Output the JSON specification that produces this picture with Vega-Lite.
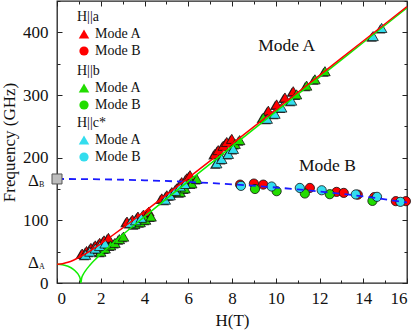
{
  "$schema": "https://vega.github.io/schema/vega-lite/v6.json",
  "width": 350,
  "height": 282,
  "autosize": {"type": "none"},
  "padding": {"left": 57, "top": 1, "right": 9, "bottom": 48},
  "background": "white",
  "config": {
    "font": "Liberation Serif",
    "view": {"stroke": "#222", "strokeWidth": 1.3},
    "axis": {
      "domain": false, "grid": false, "tickColor": "#222", "tickWidth": 1,
      "labelFont": "Liberation Serif", "labelFontSize": 17, "labelColor": "#111",
      "titleFont": "Liberation Serif", "titleFontSize": 17, "titleFontWeight": "normal", "titleColor": "#111"
    },
    "legend": {
      "titleFont": "Liberation Serif", "titleFontSize": 14, "titleFontWeight": "normal", "titleColor": "#111",
      "labelFont": "Liberation Serif", "labelFontSize": 14, "labelColor": "#111",
      "symbolStrokeColor": "#111", "symbolStrokeWidth": 0.8, "padding": 0, "rowPadding": 3, "titlePadding": 3
    }
  },
  "datasets": {
    "pts": [
      {"H": 1.15, "f": 47, "o": "a", "m": "Mode A"}, {"H": 1.35, "f": 51, "o": "a", "m": "Mode A"}, {"H": 1.55, "f": 56, "o": "a", "m": "Mode A"},
      {"H": 1.75, "f": 60, "o": "a", "m": "Mode A"}, {"H": 1.95, "f": 64, "o": "a", "m": "Mode A"}, {"H": 2.15, "f": 68, "o": "a", "m": "Mode A"},
      {"H": 2.35, "f": 72, "o": "a", "m": "Mode A"}, {"H": 3.2, "f": 98, "o": "a", "m": "Mode A"}, {"H": 3.45, "f": 101, "o": "a", "m": "Mode A"},
      {"H": 3.7, "f": 106, "o": "a", "m": "Mode A"}, {"H": 3.95, "f": 109, "o": "a", "m": "Mode A"}, {"H": 4.2, "f": 114, "o": "a", "m": "Mode A"},
      {"H": 4.79, "f": 135, "o": "a", "m": "Mode A"}, {"H": 5.02, "f": 140, "o": "a", "m": "Mode A"}, {"H": 5.25, "f": 145, "o": "a", "m": "Mode A"},
      {"H": 5.47, "f": 151, "o": "a", "m": "Mode A"}, {"H": 5.7, "f": 161, "o": "a", "m": "Mode A"}, {"H": 5.93, "f": 167, "o": "a", "m": "Mode A"},
      {"H": 6.08, "f": 172, "o": "a", "m": "Mode A"}, {"H": 7.22, "f": 206, "o": "a", "m": "Mode A"}, {"H": 7.37, "f": 212, "o": "a", "m": "Mode A"},
      {"H": 7.6, "f": 219, "o": "a", "m": "Mode A"}, {"H": 7.76, "f": 225, "o": "a", "m": "Mode A"}, {"H": 7.99, "f": 230, "o": "a", "m": "Mode A"},
      {"H": 9.66, "f": 275, "o": "a", "m": "Mode A"}, {"H": 10.04, "f": 285, "o": "a", "m": "Mode A"}, {"H": 10.42, "f": 296, "o": "a", "m": "Mode A"},
      {"H": 10.8, "f": 306, "o": "a", "m": "Mode A"},
      {"H": 8.37, "f": 157, "o": "a", "m": "Mode B"}, {"H": 9.0, "f": 158.7, "o": "a", "m": "Mode B"}, {"H": 9.43, "f": 157, "o": "a", "m": "Mode B"},
      {"H": 11.56, "f": 151.7, "o": "a", "m": "Mode B"}, {"H": 12.78, "f": 145.4, "o": "a", "m": "Mode B"}, {"H": 13.11, "f": 143.8, "o": "a", "m": "Mode B"},
      {"H": 13.75, "f": 141, "o": "a", "m": "Mode B"}, {"H": 14.5, "f": 137, "o": "a", "m": "Mode B"}, {"H": 15.49, "f": 130.6, "o": "a", "m": "Mode B"},
      {"H": 15.95, "f": 130.6, "o": "a", "m": "Mode B"},
      {"H": 2.0, "f": 50, "o": "b", "m": "Mode A"}, {"H": 2.2, "f": 55, "o": "b", "m": "Mode A"}, {"H": 2.45, "f": 60, "o": "b", "m": "Mode A"},
      {"H": 2.65, "f": 64, "o": "b", "m": "Mode A"}, {"H": 2.85, "f": 70, "o": "b", "m": "Mode A"}, {"H": 3.04, "f": 74, "o": "b", "m": "Mode A"},
      {"H": 3.55, "f": 94, "o": "b", "m": "Mode A"}, {"H": 3.8, "f": 97, "o": "b", "m": "Mode A"}, {"H": 4.05, "f": 101, "o": "b", "m": "Mode A"},
      {"H": 4.3, "f": 106, "o": "b", "m": "Mode A"}, {"H": 5.63, "f": 145, "o": "b", "m": "Mode A"}, {"H": 5.85, "f": 151, "o": "b", "m": "Mode A"},
      {"H": 6.16, "f": 159, "o": "b", "m": "Mode A"}, {"H": 6.39, "f": 166, "o": "b", "m": "Mode A"}, {"H": 8.14, "f": 222, "o": "b", "m": "Mode A"},
      {"H": 8.35, "f": 228, "o": "b", "m": "Mode A"}, {"H": 9.43, "f": 264, "o": "b", "m": "Mode A"}, {"H": 10.95, "f": 301, "o": "b", "m": "Mode A"},
      {"H": 11.41, "f": 315, "o": "b", "m": "Mode A"}, {"H": 11.79, "f": 325, "o": "b", "m": "Mode A"}, {"H": 12.25, "f": 338, "o": "b", "m": "Mode A"},
      {"H": 9.05, "f": 150, "o": "b", "m": "Mode B"}, {"H": 10.04, "f": 146.5, "o": "b", "m": "Mode B"}, {"H": 11.33, "f": 142.8, "o": "b", "m": "Mode B"},
      {"H": 12.47, "f": 141.7, "o": "b", "m": "Mode B"}, {"H": 14.42, "f": 131, "o": "b", "m": "Mode B"},
      {"H": 1.3, "f": 45, "o": "c", "m": "Mode A"}, {"H": 1.5, "f": 50, "o": "c", "m": "Mode A"}, {"H": 1.75, "f": 55, "o": "c", "m": "Mode A"},
      {"H": 1.95, "f": 59, "o": "c", "m": "Mode A"}, {"H": 2.2, "f": 63, "o": "c", "m": "Mode A"}, {"H": 3.35, "f": 96, "o": "c", "m": "Mode A"},
      {"H": 3.6, "f": 100, "o": "c", "m": "Mode A"}, {"H": 3.85, "f": 104, "o": "c", "m": "Mode A"}, {"H": 4.95, "f": 133, "o": "c", "m": "Mode A"},
      {"H": 5.17, "f": 140, "o": "c", "m": "Mode A"}, {"H": 5.4, "f": 147, "o": "c", "m": "Mode A"}, {"H": 5.63, "f": 154, "o": "c", "m": "Mode A"},
      {"H": 5.85, "f": 158, "o": "c", "m": "Mode A"}, {"H": 7.3, "f": 191, "o": "c", "m": "Mode A"}, {"H": 7.53, "f": 198, "o": "c", "m": "Mode A"},
      {"H": 7.83, "f": 206, "o": "c", "m": "Mode A"}, {"H": 8.06, "f": 214, "o": "c", "m": "Mode A"}, {"H": 9.61, "f": 262, "o": "c", "m": "Mode A"},
      {"H": 9.96, "f": 270, "o": "c", "m": "Mode A"}, {"H": 10.27, "f": 280, "o": "c", "m": "Mode A"}, {"H": 10.72, "f": 291, "o": "c", "m": "Mode A"},
      {"H": 14.45, "f": 394, "o": "c", "m": "Mode A"}, {"H": 14.84, "f": 407, "o": "c", "m": "Mode A"},
      {"H": 8.41, "f": 155, "o": "c", "m": "Mode B"}, {"H": 9.81, "f": 154, "o": "c", "m": "Mode B"}, {"H": 11.1, "f": 151.7, "o": "c", "m": "Mode B"},
      {"H": 12.1, "f": 148, "o": "c", "m": "Mode B"}, {"H": 13.66, "f": 141.3, "o": "c", "m": "Mode B"}, {"H": 14.63, "f": 137.5, "o": "c", "m": "Mode B"},
      {"H": 15.7, "f": 129.5, "o": "c", "m": "Mode B"}
    ],
    "red": [
      {"H": 0, "f": 30}, {"H": 0.25, "f": 30.8}, {"H": 0.5, "f": 33.0}, {"H": 0.75, "f": 36.4}, {"H": 1, "f": 40.7},
      {"H": 1.25, "f": 45.6}, {"H": 1.5, "f": 51.0}, {"H": 2, "f": 62.6}, {"H": 2.5, "f": 75.0}, {"H": 3, "f": 87.8},
      {"H": 4, "f": 114.0}, {"H": 5, "f": 140.7}, {"H": 6, "f": 167.7}, {"H": 8, "f": 222.0}, {"H": 10, "f": 276.6},
      {"H": 12, "f": 331.4}, {"H": 14, "f": 386.2}, {"H": 16, "f": 441.0}
    ],
    "green": [
      {"H": 0, "f": 30}, {"H": 0.25, "f": 29.2}, {"H": 0.5, "f": 26.7}, {"H": 0.75, "f": 21.8}, {"H": 0.9, "f": 16.9},
      {"H": 1.0, "f": 12.0}, {"H": 1.05, "f": 8.1}, {"H": 1.09, "f": 0}, {"H": 1.13, "f": 8.1}, {"H": 1.2, "f": 13.7},
      {"H": 1.3, "f": 19.4}, {"H": 1.5, "f": 28.3}, {"H": 1.75, "f": 37.6}, {"H": 2, "f": 46.1}, {"H": 2.5, "f": 61.9},
      {"H": 3, "f": 76.9}, {"H": 4, "f": 105.8}, {"H": 5, "f": 134.2}, {"H": 6, "f": 162.3}, {"H": 8, "f": 217.9},
      {"H": 10, "f": 273.4}, {"H": 12, "f": 328.6}, {"H": 14, "f": 383.8}, {"H": 16, "f": 439.0}
    ],
    "blue": [
      {"H": 0, "f": 166}, {"H": 2, "f": 165.5}, {"H": 4, "f": 163.9}, {"H": 6, "f": 161.3}, {"H": 8, "f": 157.5},
      {"H": 10, "f": 152.4}, {"H": 12, "f": 146.1}, {"H": 14, "f": 138.2}, {"H": 16, "f": 128.5}
    ],
    "ann": [
      {"H": 10.5, "f": 378, "t": "Mode A"},
      {"H": 12.36, "f": 186, "t": "Mode B"}
    ],
    "delta": [
      {"f": 32, "t": "Δ", "s": "A"},
      {"f": 163, "t": "Δ", "s": "B"}
    ],
    "gap": [
      {"H": 0, "f": 166}
    ]
  },
  "layer": [
    {
      "data": {"name": "pts"},
      "transform": [{"filter": "datum.m === 'Mode A'"}],
      "mark": {"type": "point", "shape": "triangle-up", "filled": true, "fill": "#1a1a1a", "size": 110, "opacity": 0.85, "xOffset": -1.5, "yOffset": 1},
      "encoding": {
        "x": {"field": "H", "type": "quantitative", "scale": {"domain": [0, 16], "nice": false}, "axis": null},
        "y": {"field": "f", "type": "quantitative", "scale": {"domain": [0, 450], "nice": false}, "axis": null}
      }
    },
    {
      "data": {"name": "pts"},
      "transform": [{"filter": "datum.o === 'a'"}],
      "mark": {"type": "point", "filled": true, "stroke": "#111", "strokeWidth": 0.8, "opacity": 1},
      "encoding": {
        "x": {"field": "H", "type": "quantitative", "axis": null},
        "y": {"field": "f", "type": "quantitative", "axis": null},
        "shape": {"field": "m", "type": "nominal", "scale": {"domain": ["Mode A", "Mode B"], "range": ["triangle-up", "circle"]},
                  "legend": {"title": "H||a", "orient": "none", "legendX": 20, "legendY": 9, "labelFont": "Liberation Serif", "titleFont": "Liberation Serif"}},
        "fill": {"field": "m", "type": "nominal", "scale": {"domain": ["Mode A", "Mode B"], "range": ["#ff0000", "#ff0000"]},
                 "legend": {"title": "H||a", "orient": "none", "legendX": 20, "legendY": 9, "labelFont": "Liberation Serif", "titleFont": "Liberation Serif"}},
        "size": {"field": "m", "type": "nominal", "scale": {"domain": ["Mode A", "Mode B"], "range": [110, 85]},
                 "legend": {"title": "H||a", "orient": "none", "legendX": 20, "legendY": 9, "labelFont": "Liberation Serif", "titleFont": "Liberation Serif"}}
      }
    },
    {
      "data": {"name": "pts"},
      "transform": [{"filter": "datum.o === 'b'"}],
      "mark": {"type": "point", "filled": true, "stroke": "#111", "strokeWidth": 0.8, "opacity": 1},
      "encoding": {
        "x": {"field": "H", "type": "quantitative", "axis": null},
        "y": {"field": "f", "type": "quantitative", "axis": null},
        "shape": {"field": "m", "type": "nominal", "scale": {"domain": ["Mode A", "Mode B"], "range": ["triangle-up", "circle"]},
                  "legend": {"title": "H||b", "orient": "none", "legendX": 20, "legendY": 63, "labelFont": "Liberation Serif", "titleFont": "Liberation Serif"}},
        "fill": {"field": "m", "type": "nominal", "scale": {"domain": ["Mode A", "Mode B"], "range": ["#22dd00", "#22dd00"]},
                 "legend": {"title": "H||b", "orient": "none", "legendX": 20, "legendY": 63, "labelFont": "Liberation Serif", "titleFont": "Liberation Serif"}},
        "size": {"field": "m", "type": "nominal", "scale": {"domain": ["Mode A", "Mode B"], "range": [110, 85]},
                 "legend": {"title": "H||b", "orient": "none", "legendX": 20, "legendY": 63, "labelFont": "Liberation Serif", "titleFont": "Liberation Serif"}}
      }
    },
    {
      "data": {"name": "pts"},
      "transform": [{"filter": "datum.o === 'c'"}],
      "mark": {"type": "point", "filled": true, "stroke": "#111", "strokeWidth": 0.8, "opacity": 1},
      "encoding": {
        "x": {"field": "H", "type": "quantitative", "axis": null},
        "y": {"field": "f", "type": "quantitative", "axis": null},
        "shape": {"field": "m", "type": "nominal", "scale": {"domain": ["Mode A", "Mode B"], "range": ["triangle-up", "circle"]},
                  "legend": {"title": "H||c*", "orient": "none", "legendX": 20, "legendY": 115, "labelFont": "Liberation Serif", "titleFont": "Liberation Serif"}},
        "fill": {"field": "m", "type": "nominal", "scale": {"domain": ["Mode A", "Mode B"], "range": ["#33ddee", "#33ddee"]},
                 "legend": {"title": "H||c*", "orient": "none", "legendX": 20, "legendY": 115, "labelFont": "Liberation Serif", "titleFont": "Liberation Serif"}},
        "size": {"field": "m", "type": "nominal", "scale": {"domain": ["Mode A", "Mode B"], "range": [110, 85]},
                 "legend": {"title": "H||c*", "orient": "none", "legendX": 20, "legendY": 115, "labelFont": "Liberation Serif", "titleFont": "Liberation Serif"}}
      }
    },
    {
      "data": {"name": "blue"},
      "mark": {"type": "line", "color": "#1a1aff", "strokeWidth": 1.8, "strokeDash": [7, 5], "interpolate": "monotone", "clip": true},
      "encoding": {
        "x": {"field": "H", "type": "quantitative", "axis": null},
        "y": {"field": "f", "type": "quantitative", "axis": null}
      }
    },
    {
      "data": {"name": "green"},
      "mark": {"type": "line", "color": "#11ee00", "strokeWidth": 1.5, "interpolate": "monotone", "clip": true},
      "encoding": {
        "x": {"field": "H", "type": "quantitative",
              "axis": {"orient": "top", "values": [0,1,2,3,4,5,6,7,8,9,10,11,12,13,14,15,16], "labels": false, "title": null,
                       "tickSize": {"condition": {"test": "datum.value % 2 === 0", "value": -5}, "value": -3}}},
        "y": {"field": "f", "type": "quantitative",
              "axis": {"orient": "right", "values": [0,50,100,150,200,250,300,350,400,450], "labels": false, "title": null,
                       "tickSize": {"condition": {"test": "datum.value % 100 === 0", "value": -5}, "value": -3}}}
      }
    },
    {
      "data": {"name": "red"},
      "mark": {"type": "line", "color": "#ff0000", "strokeWidth": 1.5, "interpolate": "monotone", "clip": true},
      "encoding": {
        "x": {"field": "H", "type": "quantitative",
              "axis": {"orient": "bottom", "values": [0,1,2,3,4,5,6,7,8,9,10,11,12,13,14,15,16], "title": "H(T)",
                       "labelFont": "Liberation Serif", "titleFont": "Liberation Serif",
                       "labelExpr": "datum.value % 2 === 0 ? datum.label : ''", "labelPadding": 12, "titlePadding": 6,
                       "tickSize": {"condition": {"test": "datum.value % 2 === 0", "value": -5}, "value": -3}}},
        "y": {"field": "f", "type": "quantitative",
              "axis": {"orient": "left", "values": [0,50,100,150,200,250,300,350,400,450], "title": "Frequency (GHz)",
                       "labelFont": "Liberation Serif", "titleFont": "Liberation Serif",
                       "labelExpr": "datum.value % 100 === 0 && datum.value < 450 ? datum.label : ''", "labelPadding": 14, "titlePadding": 4,
                       "tickSize": {"condition": {"test": "datum.value % 100 === 0", "value": -5}, "value": -3}}}
      }
    },
    {
      "data": {"name": "gap"},
      "mark": {"type": "point", "shape": "square", "filled": true, "fill": "#bdbdbd", "stroke": "#555", "strokeWidth": 1, "size": 100, "clip": false, "opacity": 1},
      "encoding": {
        "x": {"field": "H", "type": "quantitative", "axis": null},
        "y": {"field": "f", "type": "quantitative", "axis": null}
      }
    },
    {
      "data": {"name": "ann"},
      "mark": {"type": "text", "fontSize": 17.5, "font": "Liberation Serif", "color": "#111", "align": "center", "baseline": "middle"},
      "encoding": {
        "x": {"field": "H", "type": "quantitative", "axis": null},
        "y": {"field": "f", "type": "quantitative", "axis": null},
        "text": {"field": "t"}
      }
    },
    {
      "data": {"name": "delta"},
      "mark": {"type": "text", "fontSize": 17, "font": "Liberation Serif", "color": "#111", "align": "right", "baseline": "middle", "dx": -18, "clip": false},
      "encoding": {
        "x": {"datum": 0, "type": "quantitative", "axis": null},
        "y": {"field": "f", "type": "quantitative", "axis": null},
        "text": {"field": "t"}
      }
    },
    {
      "data": {"name": "delta"},
      "mark": {"type": "text", "fontSize": 8, "font": "Liberation Serif", "color": "#111", "align": "left", "baseline": "middle", "dx": -18, "dy": 4, "clip": false},
      "encoding": {
        "x": {"datum": 0, "type": "quantitative", "axis": null},
        "y": {"field": "f", "type": "quantitative", "axis": null},
        "text": {"field": "s"}
      }
    }
  ],
  "resolve": {"scale": {"shape": "independent", "fill": "independent", "size": "independent"}}
}
